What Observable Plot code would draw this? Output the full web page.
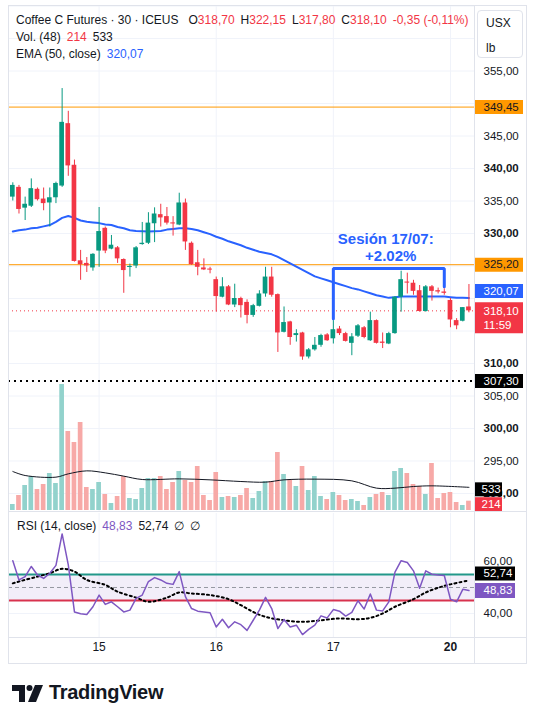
<!DOCTYPE html>
<html><head><meta charset="utf-8">
<script src="https://cdn.jsdelivr.net/npm/d3@7"></script>
<script src="https://cdn.jsdelivr.net/npm/@observablehq/plot@0.6"></script>
<style>
body{margin:0;background:#fff;font-family:"Liberation Sans",Arial,sans-serif;color:#131722;}
#wrap{position:relative;width:536px;height:711px;overflow:hidden;background:#fff;}
.abs{position:absolute;}
.r{color:#f23645}.b{color:#2962ff}.p{color:#7e57c2}
.hdr{position:absolute;left:16px;font-size:12px;white-space:nowrap;}
.hdr .g{margin-left:6px}
.hdr .t{margin-left:10px}
.line{position:absolute;background:#e0e3eb;}
</style></head>
<body><div id="wrap"></div>
<script>
// ---------- DATA ----------
const openP  = [335.6,337.1,333.9,334.2,336.8,335.3,334.7,335.5,337.3,346.9,340.5,325.8,325.4,324.7,327.3,330.8,327.6,327.8,326.0,324.8,325.0,328.3,328.5,331.5,332.9,332.6,331.6,331.3,334.7,328.5,325.5,324.7,324.5,322.9,320.2,321.8,319.0,320.0,319.4,317.4,318.8,320.7,323.3,320.6,314.8,316.4,314.3,314.7,311.0,312.1,312.8,314.4,313.8,315.3,314.6,313.1,314.2,315.5,313.5,316.6,313.3,313.0,314.6,320.2,322.5,322.35,321.2,318.0,321.8,321.2,321.0,319.7,316.6,316.5,318.70];
const highP  = [337.8,337.4,335.6,338.4,337.0,337.0,337.0,337.9,352.3,348.8,341.3,327.4,326.3,326.9,334.0,331.0,329.7,328.0,326.1,325.3,328.0,331.7,333.2,333.95,334.5,334.0,332.6,336.2,335.3,328.7,327.4,326.1,324.8,323.3,323.2,322.0,322.2,320.2,319.8,319.1,321.2,324.8,324.8,320.7,318.7,316.5,315.2,314.8,312.3,314.0,314.5,314.6,316.6,315.7,314.8,314.6,316.0,315.7,317.9,316.7,314.7,314.8,320.3,324.2,323.9,322.8,322.0,322.0,322.0,321.6,321.5,320.0,316.9,318.6,322.15];
const lowP   = [335.0,333.0,332.0,334.0,335.0,333.5,331.0,334.6,337.1,338.8,325.6,322.8,324.0,324.2,324.8,326.9,327.5,325.4,320.8,323.3,324.6,328.2,328.3,328.6,331.0,331.3,329.6,331.2,327.4,325.1,323.5,324.3,323.8,317.9,320.1,318.9,318.6,317.0,316.1,317.1,318.7,320.2,320.2,311.7,314.7,312.8,313.3,310.5,310.7,311.9,312.5,313.4,313.0,314.3,313.3,311.2,314.0,313.8,313.4,313.0,312.3,312.9,314.5,317.9,320.7,320.5,317.9,317.9,319.6,320.7,320.5,315.5,315.2,316.4,317.80];
const closeP = [337.4,333.7,334.5,336.9,335.2,334.6,335.5,337.7,347.1,340.4,325.7,325.2,325.0,326.8,330.3,327.3,328.2,326.1,324.3,324.9,327.8,328.5,331.6,333.0,332.4,331.6,331.5,334.7,328.7,325.2,324.8,324.4,324.4,320.3,321.8,319.0,320.0,318.9,317.4,318.9,320.7,323.3,320.5,314.7,316.3,314.0,314.6,311.0,312.1,312.8,314.3,313.5,315.2,314.6,313.4,314.1,315.8,314.0,316.6,313.1,313.1,314.6,320.2,322.9,322.4,321.1,318.0,321.8,321.1,321.0,320.8,316.7,315.8,318.6,318.10];
const volume = [138,345,575,782,483,598,851,621,2898,1817,1564,2024,529,483,644,368,161,322,782,276,253,506,736,736,782,483,644,897,690,644,1012,345,230,874,299,322,299,345,506,276,437,667,667,1334,828,713,552,1012,460,782,322,253,414,345,230,253,207,115,299,368,414,345,897,966,851,598,552,368,1081,276,391,414,184,115,214];
const ema50 = [330.3,330.5,330.6,330.8,330.9,331.1,331.3,331.8,332.4,332.7,332.4,332.0,331.8,331.7,331.6,331.4,331.3,331.0,330.8,330.5,330.4,330.35,330.3,330.35,330.4,330.6,330.7,330.8,330.8,330.7,330.5,330.2,329.9,329.5,329.2,328.8,328.5,328.2,327.8,327.5,327.2,327.0,326.8,326.4,325.9,325.4,324.9,324.4,323.9,323.4,323.1,322.8,322.5,322.2,321.9,321.6,321.4,321.1,320.8,320.5,320.3,320.1,320.2,320.3,320.3,320.3,320.3,320.3,320.3,320.3,320.3,320.2,320.1,320.1,320.07];
const volMAIdx = [0,2,7,9,12,15,18,21,27,32,37,41,44,49,55,59,62,65,68,74];
const volMA    = [897,805,767,843,912,866,790,713,728,705,667,652,705,721,682,514,514,552,567,533];
const rsi = [60.3,52.9,54.2,58.1,54.8,53.5,55.5,58.5,70.6,58.7,40.6,39.9,39.6,42.6,47.1,43.5,44.5,42.6,40.6,41.3,45.8,47.1,52.3,53.8,52.9,51.6,51.2,56.1,46.5,41.9,40.9,40.6,40.3,34.8,37.8,34.5,36.8,35.7,33.5,37.4,41.3,46.2,41.9,34.2,37.7,34.8,35.5,31.9,33.9,35.5,39.1,38.3,41.5,40.9,39.0,40.4,44.9,41.7,47.5,41.3,41.0,44.5,55.9,60.3,59.6,56.4,49.7,56.4,55.1,54.8,54.6,45.5,44.5,49.3,48.83];
const rsiMAIdx = [0,1,4,6,8,10,12,15,17,20,22,25,27,29,32,35,37,39,41,44,47,50,53,56,58,60,62,65,67,69,71,74];
const rsiMA    = [51.6,52.3,54.2,55.5,57.2,56.1,52.9,51.0,48.4,46.1,44.5,46.1,48.1,47.7,47.1,45.5,43.2,40.6,38.7,37.4,36.8,37.4,38.1,37.8,38.3,40.0,42.6,45.5,48.1,49.9,51.2,52.74];
const dayIdx    = [14,33,52,71];
const dayLabels = ["15","16","17","20"];
const dayBold   = [false,false,false,true];
const priceTicks = [355,345,340,335,330,310,305,300,295,290];
const priceBold  = [false,false,true,false,true,true,false,true,false,true];
const gridPrices = [290,295,300,305,310,315,320,325,330,335,340,345,350,355,360,365];
const resistLevels = [349.45, 325.20];
const supportLevel = 307.30;
const lastPrice = 318.10, lastTime = "11:59";
const changeText = "-0,35 (-0,11%)";
const rsiTicks = [60,40];
const rsiBands = [55,45], rsiMid = 50;
const sessIdx = [52,52,70,70];
const sessPrice = [316.9,324.6,324.6,321.8];
const sessTitle = "Sesión 17/07:", sessChange = "+2.02%";
const sessTextIdx = [60.5, 61.3], sessTextPrice = [329.1, 326.5];

// ---------- helpers ----------
const UP = "#089981", DN = "#f23645";
const fmt = v => d3.format(".2f")(v).replace(".", ",");
const idx = d3.range(closeP.length);
const bars = idx.map(i => {
  const o = openP[i], c = closeP[i];
  let lo = Math.min(o, c), hi = Math.max(o, c);
  if (hi - lo < 0.16) { const m = (hi + lo) / 2; lo = m - 0.08; hi = m + 0.08; }
  return {i, o, c, h: highP[i], l: lowP[i], lo, hi, v: volume[i], col: c >= o ? UP : DN,
          vcol: c >= o ? "#92d2cc" : "#f7a9a7"};
});
const style = {fontFamily: "'Liberation Sans', Arial, sans-serif", fontSize: "11.5px", color: "#131722", background: "transparent", overflow: "visible"};
const xCfg = {domain: [-0.7, 74.9], axis: null};
const priceY = {domain: [287.23, 365.08], axis: null};
const volY = {domain: [0, 11615], axis: null};
const rsiY = {domain: [30.77, 78.46], axis: null};
const wrap = document.getElementById("wrap");
function place(el, top) { el.style.position = "absolute"; el.style.left = "0px"; el.style.top = top + "px"; wrap.appendChild(el); }

// ---------- main pane: grid ----------
place(Plot.plot({width: 536, height: 511, marginLeft: 8, marginRight: 62, marginTop: 5, marginBottom: 0, x: xCfg, y: priceY, style,
  marks: [
    Plot.ruleY(gridPrices, {stroke: "#f0f3fa", strokeWidth: 1}),
    Plot.ruleX(dayIdx, {stroke: "#f0f3fa", strokeWidth: 1})
  ]}), 0);

// ---------- main pane: volume ----------
place(Plot.plot({width: 536, height: 511, marginLeft: 8, marginRight: 62, marginTop: 5, marginBottom: 1, x: xCfg, y: volY, style,
  marks: [
    Plot.rect(bars, {x1: d => d.i - 0.38, x2: d => d.i + 0.38, y1: 0, y2: "v", fill: "vcol"}),
    Plot.line(volMAIdx.map((k, j) => ({k, v: volMA[j]})), {x: "k", y: "v", stroke: "#131722", strokeWidth: 1, curve: "catmull-rom"})
  ]}), 0);

// ---------- main pane: price ----------
place(Plot.plot({width: 536, height: 511, marginLeft: 8, marginRight: 62, marginTop: 5, marginBottom: 0, x: xCfg, y: priceY, style,
  marks: [
    Plot.ruleY(resistLevels, {stroke: "#ff9800", strokeWidth: 1}),
    Plot.ruleY([supportLevel], {stroke: "#000", strokeWidth: 2, strokeDasharray: "2,4"}),
    Plot.ruleY([lastPrice], {stroke: DN, strokeWidth: 1, strokeDasharray: "1,3"}),
    Plot.line(idx, {x: i => i, y: i => ema50[i], stroke: "#2962ff", strokeWidth: 2}),
    Plot.ruleX(bars, {x: "i", y1: "l", y2: "h", stroke: "col", strokeWidth: 1}),
    Plot.rect(bars, {x1: d => d.i - 0.38, x2: d => d.i + 0.38, y1: "lo", y2: "hi", fill: "col"}),
    Plot.line(sessIdx.map((k, j) => ({k, p: sessPrice[j]})), {x: "k", y: "p", stroke: "#2962ff", strokeWidth: 3, strokeLinejoin: "miter"}),
    Plot.text([sessTitle], {x: () => sessTextIdx[0], y: () => sessTextPrice[0], text: d => d, fill: "#2962ff", fontSize: 15, fontWeight: "bold"}),
    Plot.text([sessChange], {x: () => sessTextIdx[1], y: () => sessTextPrice[1], text: d => d, fill: "#2962ff", fontSize: 15, fontWeight: "bold"})
  ]}), 0);

// ---------- RSI pane ----------
place(Plot.plot({width: 536, height: 152, marginLeft: 8, marginRight: 62, marginTop: 2, marginBottom: 26, x: xCfg, y: rsiY, style,
  marks: [
    Plot.ruleY(rsiTicks, {stroke: "#f0f3fa"}),
    Plot.ruleX(dayIdx, {stroke: "#f0f3fa"}),
    Plot.rect([{lo: rsiBands[1], hi: rsiBands[0]}], {y1: "lo", y2: "hi", fill: "#7e57c2", fillOpacity: 0.1}),
    Plot.ruleY([rsiBands[0]], {stroke: "#22988a", strokeWidth: 2}),
    Plot.ruleY([rsiBands[1]], {stroke: "#d8324e", strokeWidth: 2}),
    Plot.ruleY([rsiMid], {stroke: "#9598a1", strokeWidth: 1, strokeDasharray: "4,3"}),
    Plot.line(rsiMAIdx.map((k, j) => ({k, v: rsiMA[j]})), {x: "k", y: "v", stroke: "#000", strokeWidth: 2, strokeDasharray: "2,3", curve: "catmull-rom"}),
    Plot.line(idx, {x: i => i, y: i => rsi[i], stroke: "#7e57c2", strokeWidth: 1.5}),
    Plot.text(dayIdx.filter((d, j) => !dayBold[j]), {x: d => d, text: d => dayLabels[dayIdx.indexOf(d)], frameAnchor: "bottom", dy: 13, fontSize: 12}),
    Plot.text(dayIdx.filter((d, j) => dayBold[j]), {x: d => d, text: d => dayLabels[dayIdx.indexOf(d)], frameAnchor: "bottom", dy: 13, fontSize: 12, fontWeight: "bold"})
  ]}), 511);

// ---------- price axis ----------
const box = (v, bg, fg, dy) => [
  Plot.ruleY([v], {y: d => d, stroke: bg, strokeWidth: 14, dy: dy || 0}),
  Plot.text([v], {y: d => d, text: fmt, fill: fg, frameAnchor: "left", dx: 8, dy: dy || 0, textAnchor: "start"})
];
place(Plot.plot({width: 536, height: 511, marginLeft: 475, marginRight: 13, marginTop: 5, marginBottom: 0, y: priceY, style,
  marks: [
    Plot.text(priceTicks.filter((t, j) => !priceBold[j]), {y: d => d, text: fmt, frameAnchor: "left", dx: 8, textAnchor: "start"}),
    Plot.text(priceTicks.filter((t, j) => priceBold[j]), {y: d => d, text: fmt, frameAnchor: "left", dx: 8, textAnchor: "start", fontWeight: "bold"}),
    ...box(resistLevels[0], "#ff9800", "#131722", 0),
    ...box(resistLevels[1], "#ff9800", "#131722", 0),
    ...box(supportLevel, "#000", "#fff", 0),
    ...box(ema50[ema50.length - 1], "#2962ff", "#fff", -7),
    Plot.ruleY([lastPrice], {y: d => d, stroke: DN, strokeWidth: 31, dy: 7}),
    Plot.text([lastPrice], {y: d => d, text: fmt, fill: "#fff", frameAnchor: "left", dx: 8, textAnchor: "start"}),
    Plot.text([lastPrice], {y: d => d, text: () => lastTime, fill: "#fff", frameAnchor: "left", dx: 8, dy: 14, textAnchor: "start"})
  ]}), 0);

// ---------- volume axis ----------
place(Plot.plot({width: 536, height: 511, marginLeft: 475, marginRight: 34, marginTop: 5, marginBottom: 1, y: volY, style,
  marks: [
    Plot.ruleY([volMA[volMA.length - 1]], {y: d => d, stroke: "#000", strokeWidth: 14, dy: 2}),
    Plot.text([volMA[volMA.length - 1]], {y: d => d, text: d => String(d), fill: "#fff", frameAnchor: "left", dx: 6, dy: 2, textAnchor: "start"}),
    Plot.ruleY([volume[volume.length - 1]], {y: d => d, stroke: DN, strokeWidth: 14, dy: 3}),
    Plot.text([volume[volume.length - 1]], {y: d => d, text: d => String(d), fill: "#fff", frameAnchor: "left", dx: 6, dy: 3, textAnchor: "start"})
  ]}), 0);

// ---------- RSI axis ----------
place(Plot.plot({width: 536, height: 152, marginLeft: 475, marginRight: 21, marginTop: 2, marginBottom: 26, y: rsiY, style,
  marks: [
    Plot.text(rsiTicks, {y: d => d, text: fmt, frameAnchor: "left", dx: 8, textAnchor: "start"}),
    Plot.ruleY([rsiMA[rsiMA.length - 1]], {y: d => d, stroke: "#000", strokeWidth: 14, dy: -7}),
    Plot.text([rsiMA[rsiMA.length - 1]], {y: d => d, text: fmt, fill: "#fff", frameAnchor: "left", dx: 8, dy: -7, textAnchor: "start"}),
    Plot.ruleY([rsi[rsi.length - 1]], {y: d => d, stroke: "#7e57c2", strokeWidth: 15}),
    Plot.text([rsi[rsi.length - 1]], {y: d => d, text: fmt, fill: "#fff", frameAnchor: "left", dx: 8, textAnchor: "start"})
  ]}), 511);

// ---------- frame & texts ----------
const html = `
<div class="line" style="left:8px;top:5px;width:518px;height:1px"></div>
<div class="line" style="left:8px;top:663px;width:518px;height:1px"></div>
<div class="line" style="left:8px;top:5px;width:1px;height:659px"></div>
<div class="line" style="left:526px;top:5px;width:1px;height:659px"></div>
<div class="line" style="left:474px;top:5px;width:1px;height:659px"></div>
<div class="line" style="left:8px;top:511px;width:518px;height:1px"></div>
<div class="line" style="left:8px;top:637px;width:518px;height:1px"></div>
<div class="abs" style="left:477px;top:10px;width:44px;height:46px;border:1px solid #e0e3eb;border-radius:4px;background:#fff;font-size:12px;">
  <div class="abs" style="left:8px;top:5px">USX</div><div class="abs" style="left:8px;top:30px">lb</div></div>
<div class="hdr" style="top:13px">Coffee C Futures · 30 · ICEUS<span class="t">O<span class="r">${fmt(openP[74])}</span></span><span class="g">H<span class="r">${fmt(highP[74])}</span></span><span class="g">L<span class="r">${fmt(lowP[74])}</span></span><span class="g">C<span class="r">${fmt(closeP[74])}</span></span><span class="g r">${changeText}</span></div>
<div class="hdr" style="top:30px">Vol. (48)<span class="g r">${volume[74]}</span><span class="g">${volMA[volMA.length-1]}</span></div>
<div class="hdr" style="top:47px">EMA (50, close)<span class="g b">${fmt(ema50[74])}</span></div>
<div class="hdr" style="top:519px;left:17px">RSI (14, close)<span class="g p">${fmt(rsi[74])}</span><span class="g">${fmt(rsiMA[rsiMA.length-1])}</span><span class="g">∅</span><span class="g">∅</span></div>
<svg class="abs" style="left:12px;top:685px" width="32" height="17" viewBox="0 0 32 17">
  <path d="M0 0H13V17H7V6H0Z" fill="#131722"/><circle cx="17.5" cy="3" r="3" fill="#131722"/><path d="M23 0H31L24 17H16Z" fill="#131722"/></svg>
<div class="abs" style="left:49px;top:681px;font-size:20px;font-weight:bold;letter-spacing:-0.3px">TradingView</div>`;
wrap.insertAdjacentHTML("beforeend", html);
</script></body></html>
